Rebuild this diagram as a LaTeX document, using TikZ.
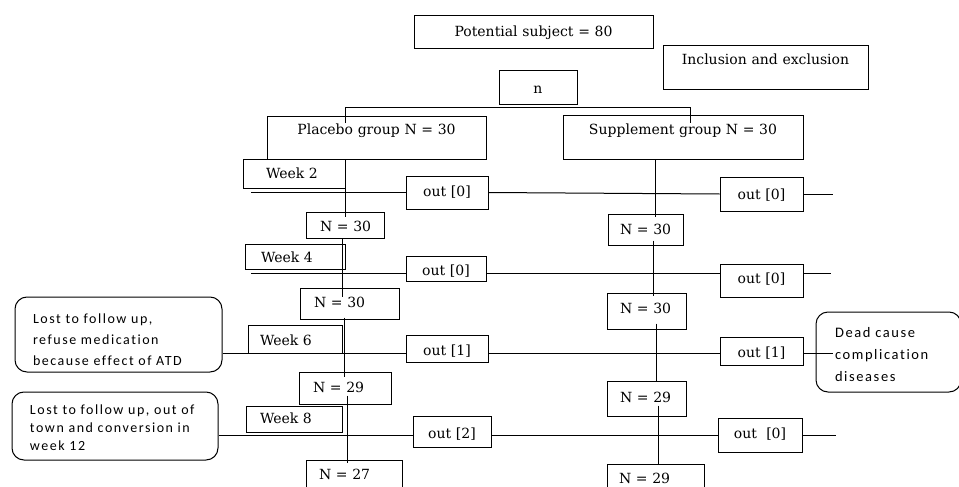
\documentclass[tikz,border=0pt]{standalone}
\usepackage{fontspec}
\setmainfont{DejaVu Serif}
\newfontfamily\calfont[LetterSpace=11,WordSpace=0.7,Ligatures=NoCommon]{Carlito}
\usetikzlibrary{calc}
\begin{document}
\begin{tikzpicture}[x=1pt,y=-1pt,
  bx/.style={draw, line width=1pt, inner ysep=0pt, inner xsep=0pt, align=center,
    font=\fontsize{14}{16}\selectfont},
  bl/.style={bx, align=left, inner xsep=#1},
  rb/.style={draw, line width=1pt, rounded corners=12pt, inner ysep=0pt, align=left},
  ln/.style={line width=1pt}]
\useasboundingbox (0,0) rectangle (959,487);

% top boxes
\node[bx, text width=239pt, text height=21pt, text depth=12pt] (pot) at (533.5,32.5) {Potential subject = 80};
\node[bx, text width=205pt, text height=19pt, text depth=25pt] (inc) at (765.5,68) {Inclusion and exclusion};
\node[bx, text width=78pt, text height=22pt, text depth=11pt] (n) at (538,87.5) {n};
\node[bx, text width=219pt, text height=19pt, text depth=24pt] (plac) at (376.5,137.5) {Placebo group N = 30};
\node[bx, text width=240pt, text height=20pt, text depth=24pt] (supp) at (683,137) {Supplement group N = 30};

% week boxes
\node[bl=23pt, text width=56pt, text height=19pt, text depth=10pt] (wk2) at (294,173.5) {Week~2};
\node[bl=16pt, text width=68pt, text height=18pt, text depth=7pt] (wk4) at (295,256.5) {Week~4};
\node[bl=12pt, text width=70pt, text height=20pt, text depth=8pt] (wk6) at (295,339) {Week~6};
\node[bl=14pt, text width=68pt, text height=17pt, text depth=9pt] (wk8) at (294,419) {Week~8};

% out boxes
\node[bx, text width=82pt, text height=20pt, text depth=13pt] (o1L) at (447,192.5) {out [0]};
\node[bx, text width=83pt, text height=22pt, text depth=12pt] (o1R) at (761.5,194) {out [0]};
\node[bx, text width=80pt, text height=19pt, text depth=6pt] (o2L) at (446,268.5) {out [0]};
\node[bx, text width=83pt, text height=19pt, text depth=14pt] (o2R) at (761.5,280.5) {out [0]};
\node[bx, text width=82pt, text height=20pt, text depth=7pt] (o3L) at (447,348.5) {out [1]};
\node[bx, text width=83pt, text height=20pt, text depth=8pt] (o3R) at (761.5,351) {out [1]};
\node[bx, text width=78pt, text height=22pt, text depth=9pt] (o4L) at (452,431.5) {out [2]};
\node[bx, text width=84pt, text height=20pt, text depth=14pt] (o4R) at (760,435) {out~~[0]};

% N boxes placebo
\node[bl=14pt, text width=50pt, text height=19pt, text depth=7pt] (pN1) at (345,225) {N~=~30};
\node[bl=14pt, text width=71pt, text height=19pt, text depth=12pt] (pN2) at (349.5,303.5) {N~=~30};
\node[bl=14pt, text width=64pt, text height=20pt, text depth=12pt] (pN3) at (345,388) {N~=~29};
\node[bl=13pt, text width=70pt, text height=19pt, text depth=10pt] (pN4) at (354,474.5) {N~=~27};
% N boxes supplement
\node[bl=12pt, text width=51pt, text height=20pt, text depth=11pt] (sN1) at (645.5,229.5) {N~=~30};
\node[bl=13pt, text width=53pt, text height=20pt, text depth=16pt] (sN2) at (646.5,311) {N~=~30};
\node[bl=13pt, text width=53pt, text height=21pt, text depth=14pt] (sN3) at (646.5,398.5) {N~=~29};
\node[bl=12pt, text width=73pt, text height=19pt, text depth=6pt] (sN4) at (655.5,476.5) {N~=~29};

% rounded note boxes
\node[rb, inner xsep=18pt, text width=171pt, minimum height=75pt,
  font=\calfont\fontsize{14}{21}\selectfont] (lost1) at (118.5,334.5)
  {\rule{0pt}{21pt}\mbox{Lost to follow up,}\\\mbox{refuse medication}\\\mbox{because effect of ATD}};
\node[rb, inner xsep=18pt, text width=170pt, minimum height=68pt,
  font=\calfont\fontsize{14}{18}\selectfont] (lost2) at (115,426)
  {\rule{0pt}{14pt}\mbox{Lost to follow up, out of}\\\mbox{town and conversion in}\\\mbox{week 12}};
\node[rb, inner xsep=19pt, text width=107pt, minimum height=80pt,
  font=\calfont\fontsize{14.5}{22}\selectfont] (dead) at (888.5,352)
  {\rule{0pt}{15pt}\mbox{Dead cause}\\\mbox{complication}\\\mbox{diseases}};

% split from n to the two groups
\coordinate (sl) at (345,123);
\coordinate (sr) at (690,123);
\draw[ln] (sl) |- ($(n.south)+(0,3)$) -| (sr);

% trunk x positions
\coordinate (t1) at (345,0); \coordinate (t2) at (342,0);
\coordinate (t3) at (344,0); \coordinate (t4) at (347,0);
\coordinate (u1) at (655,0); \coordinate (u2) at (653,0);
\coordinate (u3) at (656,0); \coordinate (u4) at (658,0);

\draw[ln] (plac.south -| t1) -- ($(pN1.north -| t1)+(0,5)$);
\draw[ln] (pN1.south -| t2) -- ($(pN2.north -| t2)+(0,9)$);
\draw[ln] ($(pN2.south -| t3)+(0,-2)$) -- ($(pN3.north -| t3)+(0,5)$);
\draw[ln] ($(pN3.south -| t4)+(0,-9)$) -- ($(pN4.north -| t4)+(0,3)$);
\draw[ln] (supp.south -| u1) -- ($(sN1.north -| u1)+(0,3)$);
\draw[ln] ($(sN1.south -| u2)+(0,-5)$) -- ($(sN2.north -| u2)+(0,3)$);
\draw[ln] ($(sN2.south -| u3)+(0,-6)$) -- (sN3.north -| u3);
\draw[ln] ($(sN3.south -| u4)+(0,-11)$) -- (sN4.north -| u4);

% rows
\coordinate (r1) at (251,192);
\coordinate (e1) at (833,194);
\draw[ln] (r1) -- (r1 -| o1L.west);
\draw[ln] (o1L.east) -- (o1R.west);
\draw[ln] (o1R.east) -- (e1);

\coordinate (r2) at (251,273);
\coordinate (e2) at (831,273);
\draw[ln] (r2) -- (r2 -| o2L.west);
\draw[ln] (o2L.east |- r2) -- (o2R.west |- r2);
\draw[ln] (o2R.east |- e2) -- (e2);

\coordinate (r3) at (0,353);
\coordinate (e3) at (833,353);
\draw[ln] (lost1.east |- r3) -- (o3L.west |- r3);
\draw[ln] (o3L.east |- r3) -- (o3R.west |- r3);
\draw[ln] (o3R.east |- e3) -- (e3);

\coordinate (r4) at (0,435);
\coordinate (e4) at (836,435);
\draw[ln] (lost2.east |- r4) -- (o4L.west |- r4);
\draw[ln] (o4L.east |- r4) -- (o4R.west |- r4);
\draw[ln] (o4R.east |- e4) -- (e4);
\end{tikzpicture}
\end{document}
